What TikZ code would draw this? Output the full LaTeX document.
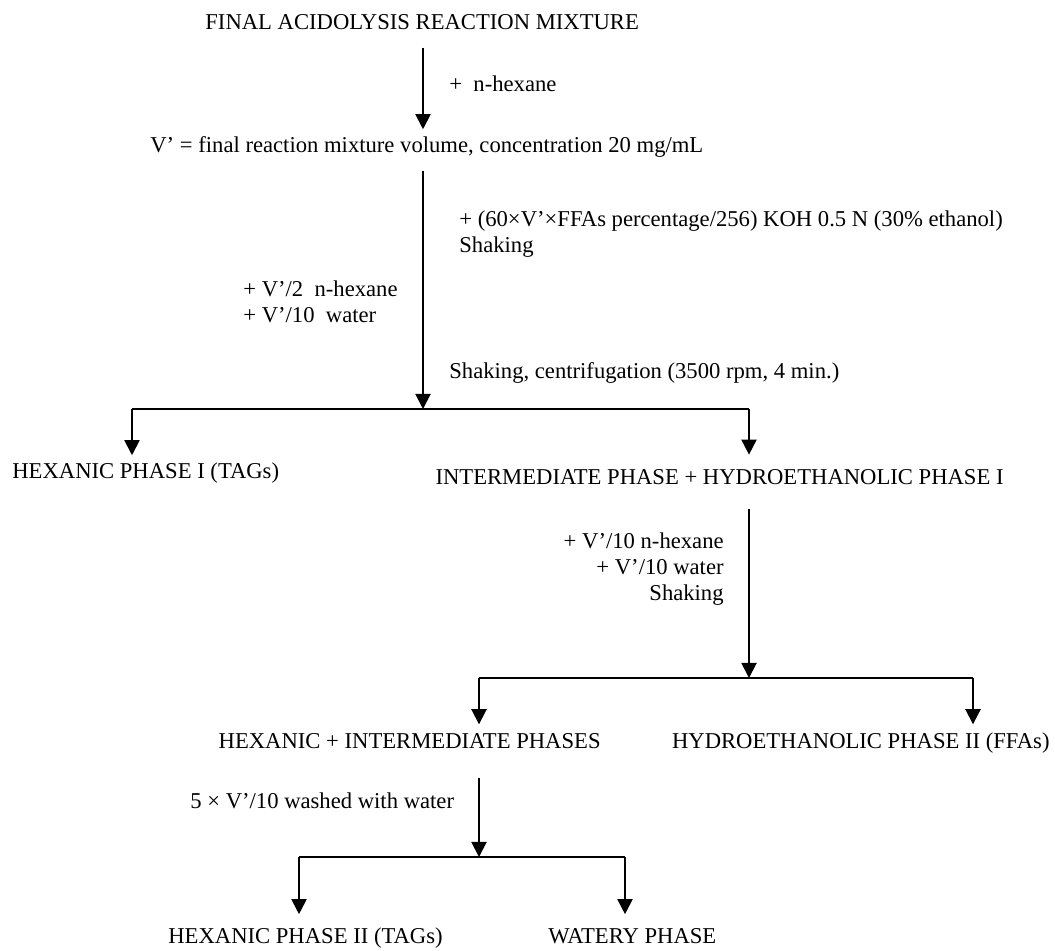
\documentclass[tikz,border=0pt]{standalone}
\usepackage{fontspec}
\setmainfont{Liberation Serif}
\usepackage{tikz}
\usetikzlibrary{arrows.meta}
\tikzset{
        flow/.style={-{Triangle[length=8pt,width=8pt]}, line width=1pt}, % the downward arrows
        bar/.style={line width=1pt}, % the horizontal split lines
        lbl/.style={inner sep=0pt, text height=0.7em, text depth=0.25em, font=\fontsize{12}{13.8}\selectfont},
        note/.style={inner sep=0pt, font=\fontsize{12}{13.8}\selectfont},
}
\begin{document}
\begin{tikzpicture}[x=0.53pt,y=-0.53pt]
\useasboundingbox (0,0) rectangle (1055,950);
\node[lbl,anchor=west] (mix) at (205,25) {FINAL ACIDOLYSIS REACTION MIXTURE};
\node[lbl,anchor=west] (vol) at (150,148) {V’ = final reaction mixture volume, concentration 20 mg/mL};
\node[lbl,anchor=west] (hexa) at (449,87) {+~~n-hexane};
\node[note,anchor=north west,align=left] (koh) at (459,210) {+ (60×V’×FFAs percentage/256) KOH 0.5 N (30\% ethanol)\\Shaking};
\node[note,anchor=north west,align=left] (addA) at (243,280) {+ V’/2~~n-hexane\\+ V’/10~~water};
\node[lbl,anchor=west] (centr) at (449,374) {Shaking, centrifugation (3500 rpm, 4 min.)};
\coordinate (j1) at (423,409);
\coordinate (l1) at (132,409);
\coordinate (r1) at (749,409);
\node[lbl,anchor=west] (hex1) at (12,474) {HEXANIC PHASE I (TAGs)};
\node[lbl,anchor=east] (inter) at (1004,480) {INTERMEDIATE PHASE + HYDROETHANOLIC PHASE I};
\node[note,anchor=north east,align=right] (addB) at (724,532) {+ V’/10 n-hexane\\+ V’/10 water\\Shaking};
\coordinate (j2) at (749,678);
\coordinate (l2) at (479,678);
\coordinate (r2) at (973,678);
\node[lbl,anchor=east] (hexint) at (601,744) {HEXANIC + INTERMEDIATE PHASES};
\node[lbl,anchor=east] (hydro) at (1050,744) {HYDROETHANOLIC PHASE II (FFAs)};
\node[lbl,anchor=west] (wash) at (190,804) {5 × V’/10 washed with water};
\coordinate (j3) at (479,857);
\coordinate (l3) at (299,857);
\coordinate (r3) at (625,857);
\node[lbl,anchor=west] (hex2) at (168,939) {HEXANIC PHASE II (TAGs)};
\node[lbl,anchor=west] (water) at (548,939) {WATERY PHASE};
\draw[flow,shorten <=7pt,shorten >=5pt] (mix.south -| j1) -- (vol.north -| j1);
\draw[flow,shorten <=7pt] (vol.south -| j1) -- (j1);
\draw[bar] (l1) -- (r1);
\draw[flow,shorten >=5pt] (l1) -- (l1 |- hex1.north);
\draw[flow,shorten >=8.5pt] (r1) -- (r1 |- inter.north);
\draw[flow,shorten <=10.3pt] (inter.south -| j2) -- (j2);
\draw[bar] (l2) -- (r2);
\draw[flow,shorten >=5.5pt] (l2) -- (l2 |- hexint.north);
\draw[flow,shorten >=5.5pt] (r2) -- (r2 |- hydro.north);
\draw[flow,shorten <=13pt] (hexint.south -| j3) -- (j3);
\draw[bar] (l3) -- (r3);
\draw[flow,shorten >=8.2pt] (l3) -- (l3 |- hex2.north);
\draw[flow,shorten >=8.2pt] (r3) -- (r3 |- water.north);
\end{tikzpicture}
\end{document}
